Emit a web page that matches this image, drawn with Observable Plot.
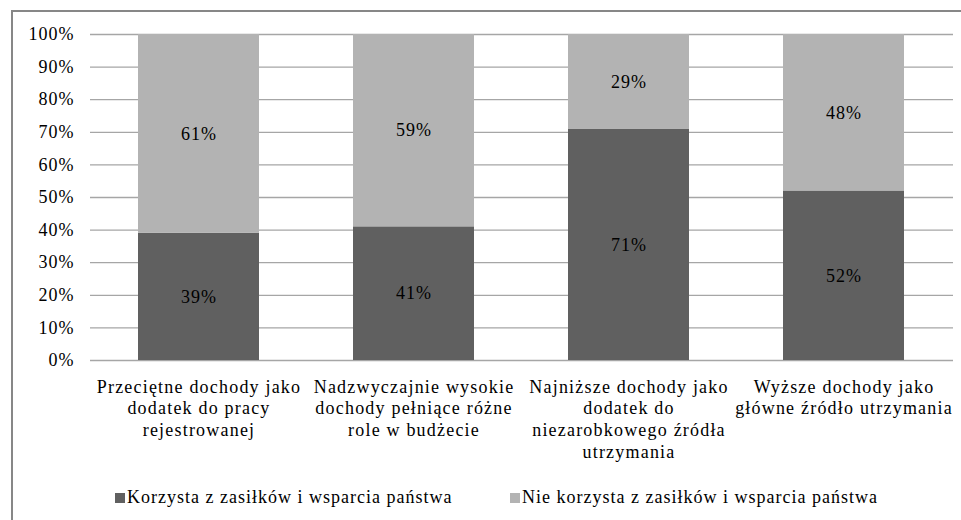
<!DOCTYPE html>
<html>
<head>
<meta charset="utf-8">
<script src="https://cdn.jsdelivr.net/npm/d3@7"></script>
<script src="https://cdn.jsdelivr.net/npm/@observablehq/plot@0.6"></script>
<style>
  html, body { margin: 0; padding: 0; background: #fff; overflow: hidden; }
  body { width: 961px; height: 520px; position: relative; }
  #frame { position: absolute; left: 11px; top: 10px; width: 1000px; height: 600px; border: 2px solid #878787; box-sizing: border-box; }
  #chart { position: absolute; left: 0; top: 0; }
  #legend { position: absolute; top: 487px; left: 0; width: 961px; height: 22px; color: #000; letter-spacing: 1px; }
  .item { position: absolute; top: 0; display: flex; align-items: center; white-space: nowrap; }
  .sw { width: 10px; height: 10px; margin-right: 2px; display: inline-block; }
  #chart svg text { letter-spacing: 1px; }
  #chart svg g[aria-label="x-axis tick label"] text { letter-spacing: 1.2px; }
</style>
</head>
<body>
<div id="frame"></div>
<div id="chart"></div>
<div id="legend" style="font-family:Liberation Serif; font-size:18px"></div>
<script>
const categories = [
  "Przeciętne dochody jako dodatek do pracy rejestrowanej",
  "Nadzwyczajnie wysokie dochody pełniące różne role w budżecie",
  "Najniższe dochody jako dodatek do niezarobkowego źródła utrzymania",
  "Wyższe dochody jako główne źródło utrzymania"
];
const categoryTickLabels = [
  "Przeciętne dochody jako\ndodatek do pracy\nrejestrowanej",
  "Nadzwyczajnie wysokie\ndochody pełniące różne\nrole w budżecie",
  "Najniższe dochody jako\ndodatek do\nniezarobkowego źródła\nutrzymania",
  "Wyższe dochody jako\ngłówne źródło utrzymania"
];
const seriesNames = ["Korzysta z zasiłków i wsparcia państwa", "Nie korzysta z zasiłków i wsparcia państwa"];
const korzysta = [39, 41, 71, 52];
const nieKorzysta = [61, 59, 29, 48];
const yTicks = [0, 10, 20, 30, 40, 50, 60, 70, 80, 90, 100];
const colors = ["#606060", "#b3b3b3"];

const FONT = "Liberation Serif";
const data = [];
categories.forEach((c, i) => {
  data.push({category: c, series: seriesNames[0], value: korzysta[i]});
  data.push({category: c, series: seriesNames[1], value: nieKorzysta[i]});
});
const labelOf = new Map(categories.map((c, i) => [c, categoryTickLabels[i]]));

const chart = Plot.plot({
  width: 961,
  height: 475,
  marginLeft: 90,
  marginRight: 8,
  marginTop: 34,
  marginBottom: 115,
  style: {fontFamily: FONT, fontSize: "18px", color: "#000", background: "transparent"},
  x: {domain: categories, paddingInner: 0.435, paddingOuter: 0.2175, label: null},
  y: {domain: [0, 100], label: null},
  color: {domain: seriesNames, range: colors},
  marks: [
    Plot.ruleY(yTicks, {stroke: "#a6a6a6", strokeWidth: 1.3}),
    Plot.barY(data, {x: "category", y: "value", fill: "series", order: seriesNames}),
    Plot.text(data, Plot.stackY({x: "category", y: "value", z: "series", order: seriesNames, text: d => d.value + "%", fontSize: 18, fontFamily: FONT, fill: "#000"})),
    Plot.axisY({ticks: yTicks, tickFormat: d => d + "%", tickSize: 0, tickPadding: 16, fontSize: 18, fontFamily: FONT, label: null}),
    Plot.axisX({tickFormat: d => labelOf.get(d), tickSize: 0, tickPadding: 17, fontSize: 18, fontFamily: FONT, lineHeight: 1.2, label: null})
  ]
});
document.getElementById("chart").appendChild(chart);

const legend = document.getElementById("legend");
const legendX = [115, 510];
seriesNames.forEach((s, i) => {
  const item = document.createElement("div");
  item.className = "item";
  item.style.left = legendX[i] + "px";
  const sw = document.createElement("span");
  sw.className = "sw";
  sw.style.background = colors[i];
  item.appendChild(sw);
  item.appendChild(document.createTextNode(s));
  legend.appendChild(item);
});
</script>
</body>
</html>
